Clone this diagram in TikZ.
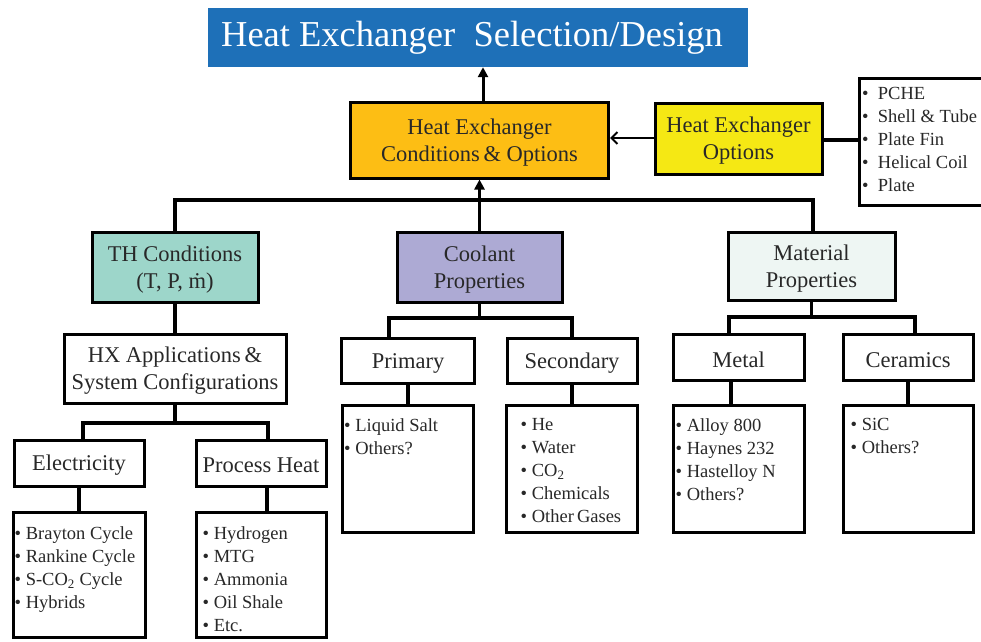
\documentclass[tikz,border=0pt]{standalone}
\usepackage{fontspec}
\setmainfont{Liberation Serif}
\usetikzlibrary{arrows.meta,calc}
\definecolor{titleblue}{RGB}{30,112,184}
\definecolor{hxorange}{RGB}{253,190,20}
\definecolor{hxyellow}{RGB}{245,232,20}
\definecolor{thteal}{RGB}{157,214,202}
\definecolor{coollav}{RGB}{173,170,212}
\definecolor{matpale}{RGB}{238,246,243}
\definecolor{txt}{RGB}{40,40,40}
\begin{document}
\begin{tikzpicture}[x=1pt,y=-1pt,
  box/.style={draw=black, line width=3pt, align=center, text=txt, inner sep=2pt,
    font=\fontsize{22.5}{27}\selectfont},
  listbox/.style={draw=black, line width=3pt, fill=white},
  listtext/.style={anchor=north west, align=left, inner sep=0pt, text=txt,
    font=\fontsize{18.5}{23}\selectfont},
  conn/.style={line width=3.5pt},
  uparrow/.style={line width=3pt, -{Triangle[length=10pt,width=10pt]}},
  openarrow/.style={line width=2pt, -{Straight Barb[length=6pt,width=12pt,line width=2pt]}}
]
\useasboundingbox (0,0) rectangle (981,641);

% title
\node[fill=titleblue, text=white, minimum width=540pt, minimum height=59pt,
  font=\fontsize{36.5}{40}\selectfont] (title) at (478,37.5)
  {Heat Exchanger\ \ Selection/Design\hspace*{12pt}};

% second level
\node[box, fill=hxorange, minimum width=258pt, minimum height=76pt] (hxco) at (479.5,140)
  {\rule{0pt}{20pt}Heat Exchanger\\Conditions\,\& Options};
\node[box, fill=hxyellow, minimum width=167pt, minimum height=71pt] (hxopt) at (738.5,138.5)
  {\rule{0pt}{20pt}Heat Exchanger\\Options};
\node[listbox, minimum width=140pt, minimum height=127pt, anchor=north west] (optlist) at (858,77) {};
\node[listtext] at ([xshift=4pt,yshift=-10pt]optlist.north west)
  {\textbullet\ \ PCHE\\\textbullet\ \ Shell \& Tube\\\textbullet\ \ Plate Fin\\\textbullet\ \ Helical Coil\\\textbullet\ \ Plate};

% third level
\node[box, fill=thteal, minimum width=166pt, minimum height=70pt] (th) at (175,267)
  {\rule{0pt}{20pt}TH Conditions\\(T, P, ṁ)};
\node[box, fill=coollav, minimum width=165pt, minimum height=70pt] (coolant) at (479.5,267)
  {\rule{0pt}{20pt}Coolant\\Properties};
\node[box, fill=matpale, minimum width=167pt, minimum height=68pt] (material) at (811.5,266)
  {\rule{0pt}{20pt}Material\\Properties};

% TH branch
\node[box, minimum width=222pt, minimum height=69pt] (hxapp) at (175,368.5)
  {\rule{0pt}{20pt}HX Applications\,\&\\System Configurations};
\node[box, minimum width=130pt, minimum height=46pt] (elec) at (79,463) {\rule{0pt}{20pt}Electricity};
\node[box, minimum width=130pt, minimum height=46pt] (proc) at (261,463) {\rule{0pt}{20pt}Process Heat};
\node[listbox, minimum width=132pt, minimum height=125pt] (elist) at (79,574.5) {};
\node[listbox, minimum width=130pt, minimum height=125pt] (plist) at (261,574.5) {};
\node[listtext] at ([xshift=3pt,yshift=-16pt]elist.north west)
  {\textbullet\ Brayton Cycle\\\textbullet\ Rankine Cycle\\\textbullet\ S-CO\textsubscript{2} Cycle\\\textbullet\ Hybrids};
\node[listtext] at ([xshift=8pt,yshift=-16pt]plist.north west)
  {\textbullet\ Hydrogen\\\textbullet\ MTG\\\textbullet\ Ammonia\\\textbullet\ Oil Shale\\\textbullet\ Etc.};

% Coolant branch
\node[box, minimum width=133pt, minimum height=45pt] (primary) at (408,360.5) {\rule{0pt}{20pt}Primary};
\node[box, minimum width=130pt, minimum height=45pt] (secondary) at (572,360.5) {\rule{0pt}{20pt}Secondary};
\node[listbox, minimum width=131pt, minimum height=127pt] (prlist) at (408,468.5) {};
\node[listbox, minimum width=131pt, minimum height=127pt] (selist) at (571.5,468.5) {};
\node[listtext] at ([xshift=3pt,yshift=-15pt]prlist.north west)
  {\textbullet\ Liquid Salt\\\textbullet\ Others?};
\node[listtext] at ([xshift=16pt,yshift=-15pt]selist.north west)
  {\textbullet\ He\\\textbullet\ Water\\\textbullet\ CO\textsubscript{2}\\\textbullet\ Chemicals\\\textbullet\ Other\,Gases};

% Material branch
\node[box, minimum width=131pt, minimum height=46pt] (metal) at (738.5,357.5) {\rule{0pt}{20pt}Metal};
\node[box, minimum width=130pt, minimum height=46pt] (ceramics) at (908,357.5) {\rule{0pt}{20pt}Ceramics};
\node[listbox, minimum width=131pt, minimum height=127pt] (mlist) at (738.5,468.5) {};
\node[listbox, minimum width=130pt, minimum height=127pt] (clist) at (908,468.5) {};
\node[listtext] at ([xshift=4pt,yshift=-15pt]mlist.north west)
  {\textbullet\ Alloy 800\\\textbullet\ Haynes 232\\\textbullet\ Hastelloy N\\\textbullet\ Others?};
\node[listtext] at ([xshift=9pt,yshift=-15pt]clist.north west)
  {\textbullet\ SiC\\\textbullet\ Others?};

% connectors
\coordinate (b1) at (479.5,200);
\coordinate (b2) at (175,423);
\coordinate (b3) at (479.5,318);
\coordinate (b4) at (811.5,317);

\draw[uparrow] ([xshift=3.5pt]hxco.north) -- ([xshift=3.5pt]hxco.north |- title.south);
\draw[openarrow] (hxopt.west |- 0,138) -- (hxco.east |- 0,138);
\draw[conn] (hxopt.east |- 0,140) -- (optlist.west |- 0,140);

\draw[conn] (th.north) |- (b1) -| ([xshift=1.5pt]material.north);
\draw[conn] (coolant.north) -- (b1);
\draw[uparrow] (b1) -- (hxco.south);

\draw[conn] (th.south) -- (hxapp.north);
\draw[conn] (hxapp.south) -- (b2);
\draw[conn] ([xshift=4pt]elec.north) |- (b2) -| ([xshift=7pt]proc.north);
\draw[conn] (elec.south) -- (elist.north);
\draw[conn] ([xshift=6pt]proc.south) -- ([xshift=6pt]plist.north);

\draw[conn] (coolant.south) -- (b3);
\draw[conn] ([xshift=-19pt]primary.north) |- (b3) -| (secondary.north);
\draw[conn] (primary.south) -- (prlist.north);
\draw[conn] (secondary.south) -- ([xshift=0.5pt]selist.north);

\draw[conn] (material.south) -- (b4);
\draw[conn] ([xshift=-9.5pt]metal.north) |- (b4) -| ([xshift=7pt]ceramics.north);
\draw[conn] ([xshift=-7.5pt]metal.south) -- ([xshift=-7.5pt]mlist.north);
\draw[conn] (ceramics.south) -- (clist.north);
\end{tikzpicture}
\end{document}
